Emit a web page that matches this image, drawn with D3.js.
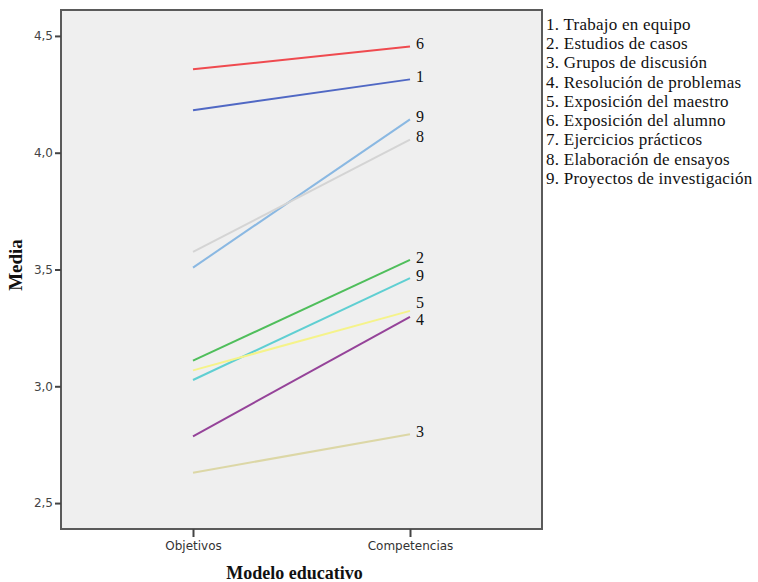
<!DOCTYPE html>
<html>
<head>
<meta charset="utf-8">
<script src="https://cdn.jsdelivr.net/npm/d3@7"></script>
<style>
body { margin: 0; background: #fff; }
svg { display: block; }
</style>
</head>
<body>
<div id="chart"></div>
<script>
// categories on the x axis
const models = ['Objetivos', 'Competencias'];

// one series per line, label shown at the right end
const seriesIds = ['6', '1', '9', '8', '2', '9', '5', '4', '3'];
const seriesColors = ['#ef4a4f', '#5068c4', '#8ab8e2', '#d4d4d4', '#4fbe5b', '#5fcfd2', '#f5f38a', '#954399', '#dcd7a6'];
const objetivosValues = [4.357, 4.182, 3.508, 3.575, 3.110, 3.027, 3.068, 2.786, 2.630];
const competenciasValues = [4.455, 4.314, 4.143, 4.056, 3.541, 3.463, 3.323, 3.297, 2.795];

const yTicks = [2.5, 3.0, 3.5, 4.0, 4.5];

const legendItems = [
	'1. Trabajo en equipo',
	'2. Estudios de casos',
	'3. Grupos de discusión',
	'4. Resolución de problemas',
	'5. Exposición del maestro',
	'6. Exposición del alumno',
	'7. Ejercicios prácticos',
	'8. Elaboración de ensayos',
	'9. Proyectos de investigación'
];

const width = 758;
const height = 582;
const plot = {left: 61, top: 10, right: 542, bottom: 529};

const svg = d3.select('#chart')
.append('svg')
.attr('width', width)
.attr('height', height);

let x = d3.scalePoint()
.domain(models)
.range([193, 410]);

let y = d3.scaleLinear()
.domain([2.389, 4.611])
.range([plot.bottom, plot.top]);

// plot background
svg.append('rect')
.attr('x', plot.left)
.attr('y', plot.top)
.attr('width', plot.right - plot.left)
.attr('height', plot.bottom - plot.top)
.attr('fill', '#efefef')
.attr('stroke', '#5a5a5a')
.attr('stroke-width', 2);

// y axis
const yAxis = svg.append('g')
.attr('transform', `translate(${plot.left},0)`)
.call(d3.axisLeft(y)
	.tickValues(yTicks)
	.tickSize(6)
	.tickPadding(2)
	.tickFormat(d => d3.format('.1f')(d).replace('.', ',')));

yAxis.select('.domain').remove();
yAxis.selectAll('line').attr('stroke', '#444').attr('stroke-width', 2);
yAxis.selectAll('text')
.attr('fill', '#444')
.style('font-family', 'DejaVu Sans, sans-serif')
.style('font-size', '12px');

// x axis
const xAxis = svg.append('g')
.attr('transform', `translate(0,${plot.bottom})`)
.call(d3.axisBottom(x)
	.tickSize(8)
	.tickPadding(4));

xAxis.select('.domain').remove();
xAxis.selectAll('line').attr('stroke', '#444').attr('stroke-width', 2);
xAxis.selectAll('text')
.attr('fill', '#333')
.style('font-family', 'DejaVu Sans, sans-serif')
.style('font-size', '12px');

// lines
const series = seriesIds.map((id, i) => ({
	id: id,
	color: seriesColors[i],
	values: [objetivosValues[i], competenciasValues[i]]
}));

const line = d3.line()
.x((d, i) => x(models[i]))
.y(d => y(d));

svg.append('g')
.selectAll('path')
.data(series)
.enter()
.append('path')
.attr('d', d => line(d.values))
.attr('fill', 'none')
.attr('stroke', d => d.color)
.attr('stroke-width', 2);

// end labels, pushed apart when they overlap
const minGap = 17;
let labels = series.map(d => ({id: d.id, y: y(d.values[1]) - 3}))
.sort((a, b) => a.y - b.y);

for (let k = 0; k < 10; k++) {
	for (let i = 1; i < labels.length; i++) {
		let gap = labels[i].y - labels[i - 1].y;
		if (gap < minGap) {
			let push = (minGap - gap) / 2;
			labels[i].y += push;
			labels[i - 1].y -= push;
		}
	}
}

svg.append('g')
.selectAll('text')
.data(labels)
.enter()
.append('text')
.attr('x', x(models[1]) + 6)
.attr('y', d => d.y)
.attr('dy', '0.35em')
.style('font-family', 'Liberation Serif, serif')
.style('font-size', '16px')
.attr('fill', '#111')
.text(d => d.id);

// axis titles
svg.append('text')
.attr('x', (plot.left + plot.right) / 2 - 7)
.attr('y', 579)
.attr('text-anchor', 'middle')
.style('font-family', 'Liberation Serif, serif')
.style('font-size', '18px')
.style('font-weight', 'bold')
.attr('fill', '#111')
.text('Modelo educativo');

svg.append('text')
.attr('transform', 'translate(22,265) rotate(-90)')
.attr('text-anchor', 'middle')
.style('font-family', 'Liberation Serif, serif')
.style('font-size', '19px')
.style('font-weight', 'bold')
.attr('fill', '#111')
.text('Media');

// legend
svg.append('g')
.selectAll('text')
.data(legendItems)
.enter()
.append('text')
.attr('x', 546)
.attr('y', (d, i) => 24 + i * 19.25)
.attr('dy', '0.35em')
.style('font-family', 'Liberation Serif, serif')
.style('font-size', '17px')
.style('letter-spacing', '0.25px')
.attr('fill', '#111')
.text(d => d);
</script>
</body>
</html>
